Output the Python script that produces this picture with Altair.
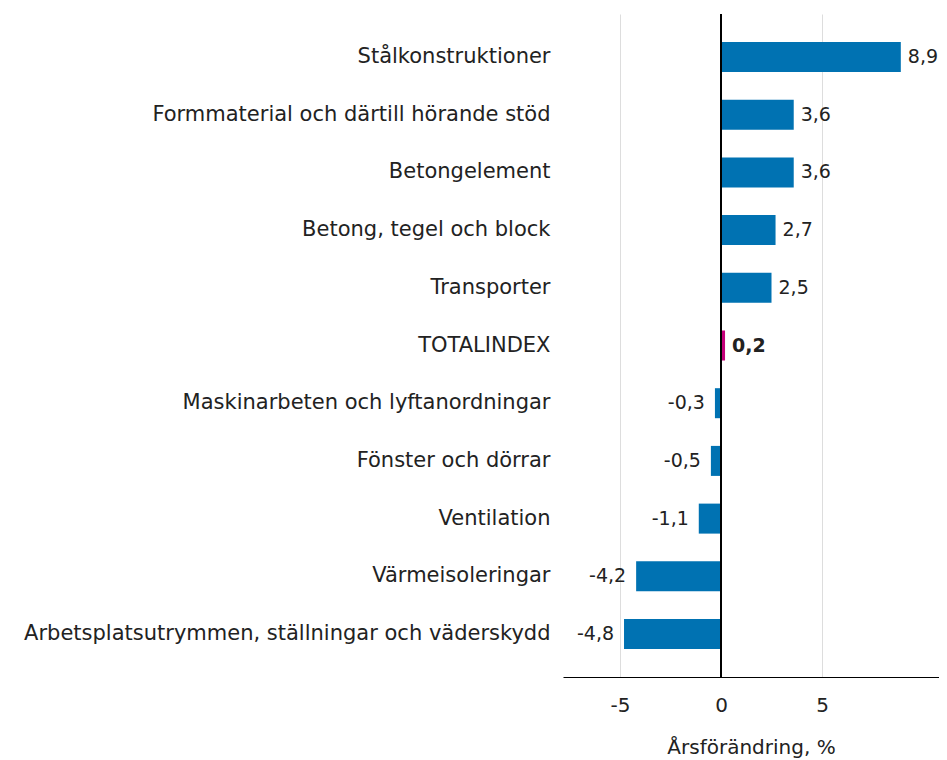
import altair as alt
import pandas as pd

categories = [
    "Stålkonstruktioner",
    "Formmaterial och därtill hörande stöd",
    "Betongelement",
    "Betong, tegel och block",
    "Transporter",
    "TOTALINDEX",
    "Maskinarbeten och lyftanordningar",
    "Fönster och dörrar",
    "Ventilation",
    "Värmeisoleringar",
    "Arbetsplatsutrymmen, ställningar och väderskydd",
]
values = [8.9, 3.6, 3.6, 2.7, 2.5, 0.2, -0.3, -0.5, -1.1, -4.2, -4.8]
highlight = "TOTALINDEX"
x_ticks = [-5, 0, 5]
x_title = "Årsförändring, %"

FONT = "DejaVu Sans"
FS_CAT = 21
FS = 20
FS_VAL = 19
BLUE = "#0072b2"
MAGENTA = "#c4007a"
TXT = "#222222"

df = pd.DataFrame({"kategori": categories, "varde": values})
df["etikett"] = [f"{v:.1f}".replace(".", ",") for v in values]
df["typ"] = ["total" if c == highlight else "ovrig" for c in categories]

xscale = alt.Scale(domain=[-7.82, 10.79], nice=False, zero=False)

base = alt.Chart(df).encode(
    y=alt.Y(
        "kategori:N",
        sort=categories,
        scale=alt.Scale(paddingInner=0.48, paddingOuter=0.485),
        axis=alt.Axis(
            title=None,
            domain=False,
            ticks=False,
            labelFont=FONT,
            labelFontSize=FS_CAT,
            labelColor=TXT,
            labelPadding=13,
            labelLimit=0,
        ),
    )
)

bars = base.mark_bar().encode(
    x=alt.X(
        "varde:Q",
        scale=xscale,
        axis=alt.Axis(
            values=x_ticks,
            title=x_title,
            grid=True,
            gridColor="#dddddd",
            gridWidth=1,
            domainColor="#000000",
            domainWidth=1.2,
            ticks=False,
            labelExpr="replace(datum.label, '\u2212', '-')",
            labelFont=FONT,
            labelFontSize=FS,
            labelColor=TXT,
            labelPadding=18,
            titleFont=FONT,
            titleFontSize=FS,
            titleFontWeight="normal",
            titleColor=TXT,
            titlePadding=22,
        ),
    ),
    color=alt.Color(
        "typ:N",
        scale=alt.Scale(domain=["ovrig", "total"], range=[BLUE, MAGENTA]),
        legend=None,
    ),
)

zero = alt.Chart(df).mark_rule(color="#000000", strokeWidth=1.5).encode(
    x=alt.datum(0)
)

pos = base.mark_text(align="left", dx=7, font=FONT, fontSize=FS_VAL, color=TXT).encode(
    x="varde:Q", text="etikett:N"
).transform_filter("datum.varde >= 0 && datum.typ != 'total'")

tot = base.mark_text(
    align="left", dx=7, font=FONT, fontSize=FS_VAL, color=TXT, fontWeight="bold"
).encode(x="varde:Q", text="etikett:N").transform_filter("datum.typ == 'total'")

neg = base.mark_text(align="right", dx=-10, font=FONT, fontSize=FS_VAL, color=TXT).encode(
    x="varde:Q", text="etikett:N"
).transform_filter("datum.varde < 0")

chart = (
    alt.layer(bars, zero, pos, tot, neg)
    .properties(
        width=376,
        height=663,
        padding={"left": 555, "top": 6, "right": 0, "bottom": 82},
        autosize=alt.AutoSizeParams(type="none"),
    )
    .configure_view(stroke=None)
)

chart.save("out.html", embed_options={"renderer": "svg", "actions": False})
